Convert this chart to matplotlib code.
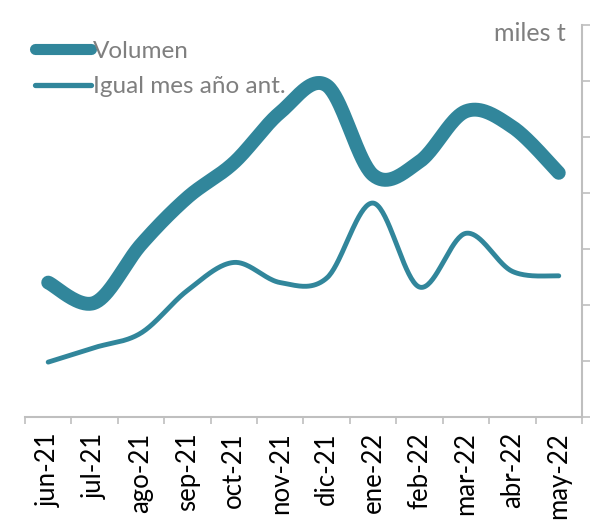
import numpy as np
import matplotlib
matplotlib.use('Agg')
import matplotlib.pyplot as plt
from matplotlib.lines import Line2D

months = ['jun-21', 'jul-21', 'ago-21', 'sep-21', 'oct-21', 'nov-21',
          'dic-21', 'ene-22', 'feb-22', 'mar-22', 'abr-22', 'may-22']
volumen = [120, 102, 154, 196, 227, 272, 296, 216, 228, 273, 259, 218]
igual_mes = [49, 62, 75, 113, 138, 120, 124, 191, 116, 164, 130, 126]

color = '#31869B'
gray = '#BFBFBF'
text_gray = '#7F7F7F'


def smooth(x, y, n=40):
    # cubic bezier through every point, control points from neighbours (1/6 rule)
    x = np.asarray(x, float)
    y = np.asarray(y, float)
    pts = np.column_stack([x, y])
    out = []
    for i in range(len(pts) - 1):
        p0 = pts[i - 1] if i > 0 else pts[i]
        p1 = pts[i]
        p2 = pts[i + 1]
        p3 = pts[i + 2] if i + 2 < len(pts) else pts[i + 1]
        c1 = p1 + (p2 - p0) / 6.0
        c2 = p2 - (p3 - p1) / 6.0
        t = np.linspace(0, 1, n)[:, None]
        seg = ((1 - t) ** 3 * p1 + 3 * (1 - t) ** 2 * t * c1
               + 3 * (1 - t) * t ** 2 * c2 + t ** 3 * p2)
        out.append(seg if i == 0 else seg[1:])
    out = np.vstack(out)
    return out[:, 0], out[:, 1]


plt.rcParams['font.family'] = ['Lato', 'DejaVu Sans']

fig = plt.figure(figsize=(6.08, 5.23), dpi=100)
ax = fig.add_axes([0.0411, 0.2027, 0.9161, 0.7495])

x = np.arange(len(months))
sx, sy = smooth(x, volumen)
ax.plot(sx, sy, color=color, lw=10, solid_capstyle='round', solid_joinstyle='round')
sx, sy = smooth(x, igual_mes)
ax.plot(sx, sy, color=color, lw=3.5, solid_capstyle='round', solid_joinstyle='round')

ax.set_xlim(-0.5, len(months) - 0.5)
ax.set_ylim(0, 350)

# value axis on the right, no labels
ax.yaxis.tick_right()
ax.set_yticks(np.arange(0, 351, 50))
ax.set_yticklabels([])
ax.tick_params(axis='y', direction='out', length=5.8, width=1.2, color=gray, right=True, left=False)

# category ticks between months
ax.set_xticks(np.arange(-0.5, len(months), 1.0))
ax.set_xticklabels([])
ax.set_xticks(x, minor=True)
ax.set_xticklabels(months, minor=True, rotation=90, fontsize=18.5)
ax.tick_params(axis='x', which='major', direction='out', length=5, width=1.2, color=gray)
ax.tick_params(axis='x', which='minor', length=0, pad=11)

for side in ['left', 'top']:
    ax.spines[side].set_visible(False)
for side in ['right', 'bottom']:
    ax.spines[side].set_color(gray)
    ax.spines[side].set_linewidth(1.5)

handles = [Line2D([], [], color=color, lw=8, solid_capstyle='round'),
           Line2D([], [], color=color, lw=3.8, solid_capstyle='round')]
leg = ax.legend(handles, ['Volumen', 'Igual mes año ant.'], loc='upper left',
                bbox_to_anchor=(0.0, 0.985), frameon=False, fontsize=17.5,
                handlelength=2.3, handletextpad=0.1, labelspacing=0.6, borderaxespad=0)
for t in leg.get_texts():
    t.set_color(text_gray)

fig.text(0.931, 0.957, 'miles t', ha='right', va='top', fontsize=18, color=text_gray)

fig.savefig('out.png', dpi=100)
